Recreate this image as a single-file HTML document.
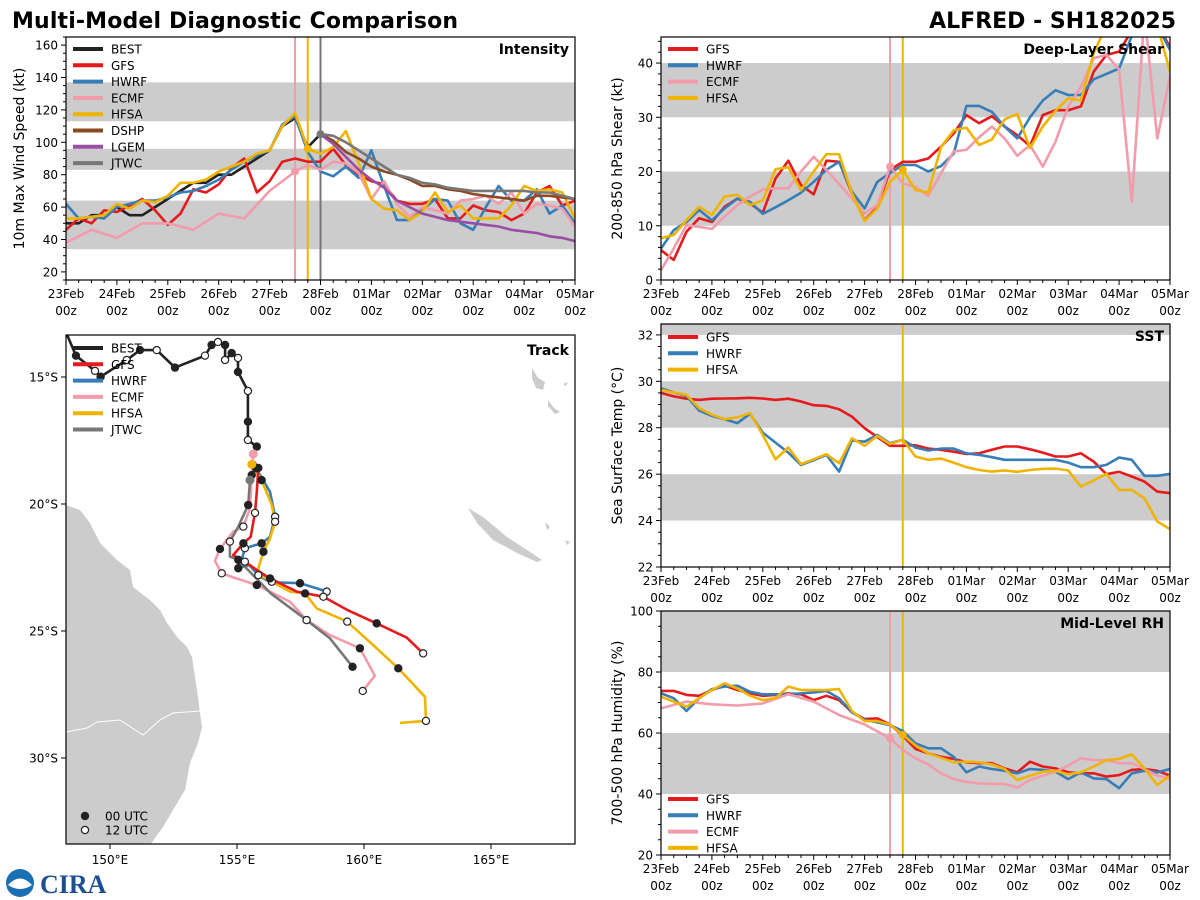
<!DOCTYPE html>
<html><head><meta charset="utf-8"><style>
html,body{margin:0;padding:0;background:#fff;}
svg{display:block;font-family:"DejaVu Sans","Liberation Sans",sans-serif;}
</style></head><body>
<svg id="chart" width="1200" height="900" viewBox="0 0 1200 900" xmlns="http://www.w3.org/2000/svg">
<text x="12" y="28" font-size="22" font-weight="bold" textLength="446">Multi-Model Diagnostic Comparison</text>
<text x="1176" y="28" font-size="22" font-weight="bold" text-anchor="end">ALFRED - SH182025</text>
<g>
<circle cx="20" cy="883" r="14" fill="#1a6fb5"/><path d="M8,885 Q20,872 32,885 Q20,893 8,885Z" fill="#fff"/>
<text x="40" y="893" font-size="26" font-weight="bold" fill="#1d4f91" font-family="Liberation Serif,serif">CIRA</text>
</g>
</svg>
<script>
const TIMES=['23Feb','24Feb','25Feb','26Feb','27Feb','28Feb','01Mar','02Mar','03Mar','04Mar','05Mar'];
// Intensity (kt), 6-hourly from 23Feb 00z
const intBEST=[50,50,55,55,60,55,55,60,65,70,75,75,80,80,85,90,95,110,115,97,105];
const intGFS=[46,53,50,58,57,61,65,58,49,56,71,69,74,84,90,69,76,88,90,88,88,96,86,80,76,74,64,62,62,65,53,53,61,58,57,52,56,69,73,61,64];
const intHWRF=[62,53,54,53,60,62,64,64,66,69,70,73,77,83,88,92,95,111,116,94,82,79,85,78,95,73,52,52,58,65,64,50,46,60,73,64,64,71,56,61,50];
const intECMF=[38,null,46,null,41,null,50,null,50,null,46,null,56,null,53,null,70,null,82,86,83,88,87,81,65,76,62,54,60,58,56,64,65,67,62,69,56,62,61,59,48];
const intHFSA=[53,53,54,55,62,59,64,63,67,75,75,77,82,85,88,93,95,110,118,96,93,97,107,87,65,59,58,52,57,69,57,61,53,53,53,61,73,70,71,69,53];
const N20=[null,null,null,null,null,null,null,null,null,null,null,null,null,null,null,null,null,null,null,null];
const intDSHP=N20.concat([105,101,94,90,85,82,80,77,73,73,71,70,68,67,66,65,64,67,67,66,65]);
const intLGEM=N20.concat([105,99,91,83,77,72,64,60,56,54,52,51,50,49,48,46,45,44,42,41,39]);
const intJTWC=N20.concat([105,104,100,95,90,85,80,78,75,74,72,71,70,70,70,70,70,69,69,67,65]);
// Shear (kt)
const shGFS=[5.5,3.7,8.9,11.4,10.7,13.5,15,14.1,12.4,18.7,22,17.5,15.8,22,21.8,16,11,13.4,20.3,21.8,21.8,22.4,24.6,27,30.4,28.9,30.2,28.3,26.7,24.7,30.4,31.3,31.3,32,38.4,41.5,42.1,46,47,47,43];
const shHWRF=[5.8,9.2,10.7,12.9,11,13.2,15,14.4,12.2,13.4,14.7,16.1,18.1,20.3,21.8,16.3,13.2,18.1,19.7,21.2,21.2,20,21,23.3,32.1,32.1,31,28.3,26.1,30,33.1,35,34.1,34.1,37,38,39,45,47,47,42.4];
const shECMF=[1.8,5.8,10.1,9.8,9.4,11.7,13.8,15.4,16.7,16.9,16.9,20,22.7,20.3,17.7,15,12.3,13.8,20.9,17.8,17.2,15.5,19.7,23.7,24,26.3,28.3,26.1,22.9,24.9,20.9,25.5,32,35.6,40.9,41.5,38.8,14.4,49,26.1,37.5];
const shHFSA=[7.7,8.3,11,13.5,12,15.4,15.7,13.8,14.7,20.4,20.8,16.6,20,23.2,23.2,16,10.9,13.2,18.1,20.3,16.6,16.1,24.5,27.6,28.1,24.9,25.9,29.6,30.6,24.3,28.3,31.2,33.5,33.1,41.8,47,47,47,47,47,38.4];
// SST (C)
const sstGFS=[29.5,29.35,29.25,29.2,29.25,29.26,29.27,29.29,29.26,29.2,29.25,29.13,28.97,28.94,28.8,28.48,27.98,27.6,27.22,27.22,27.25,27.1,27.05,26.97,26.87,26.9,27.05,27.19,27.19,27.07,26.93,26.76,26.76,26.9,26.54,26,26.1,25.9,25.68,25.25,25.18];
const sstHWRF=[29.7,29.52,29.37,28.74,28.51,28.37,28.2,28.6,27.79,27.36,26.93,26.4,26.6,26.83,26.11,27.45,27.4,27.69,27.33,27.48,27.15,27.02,27.1,27.1,26.9,26.83,26.73,26.62,26.62,26.62,26.62,26.62,26.5,26.3,26.3,26.4,26.72,26.62,25.93,25.93,26.01];
const sstHFSA=[29.63,29.52,29.42,28.84,28.56,28.37,28.45,28.63,27.69,26.64,27.15,26.44,26.64,26.86,26.47,27.55,27.22,27.65,27.3,27.48,26.76,26.62,26.67,26.5,26.3,26.18,26.11,26.16,26.1,26.18,26.23,26.24,26.16,25.47,25.73,26.01,25.32,25.32,24.96,23.96,23.63];
// RH (%)
const rhGFS=[73.8,73.8,72.5,72.2,74.1,75.5,74.1,73,72.2,72.5,73,72.7,70.8,72.2,70.8,66.8,64.6,64.8,62.8,59.1,54.8,53.3,52.2,51.5,50.4,50.1,50.1,48.4,47.1,50.6,49,48.4,47.1,46.8,46.8,45.7,46.2,47.9,48.2,47.6,46];
const rhHWRF=[73,71.4,67.2,71.4,74.4,75.2,75.5,73.5,72.7,72.7,72.7,73,73.3,73.8,71.4,66.8,64.3,63.5,62.6,60.7,56.6,55,55,52.2,47.1,49,48.2,47.6,46.8,48.2,47.9,47.3,44.9,47.1,45.1,44.9,41.9,46.8,47.6,47.1,48.2];
const rhECMF=[68.1,null,70.3,null,69.4,null,69,null,69.7,null,72.7,null,70.3,null,65.9,null,62.8,null,58.3,54.4,51.7,49.7,46.8,44.9,44,43.5,43.3,43.3,42.1,44.6,46,47.3,49.3,51.7,51.1,51.1,50.1,50.1,48.2,46,45.1];
const rhHFSA=[71.9,70.3,68.6,71.4,74.1,76.3,74.6,72.2,70.8,71.4,75.2,74.1,74.1,74.1,74.4,67.2,63.9,63.9,62.8,59.4,55.9,53.3,51.9,50.4,50.6,50.4,49.7,48.2,44.6,46,47.3,47.6,46.5,47.1,49,51.1,51.5,53,48.4,43,46];
// Tracks (lon E, lat S)
const trBESTlon=[148.23,148.66,149.41,149.63,150.66,151.18,151.84,152.56,153.74,154.0,154.25,154.53,154.53,154.79,155.04,155.04,155.43,155.43,155.43,155.78];
const trBESTlat=[13.15,14.16,14.76,14.99,14.33,13.94,13.94,14.63,14.16,13.74,13.62,13.74,14.33,14.06,14.25,14.8,15.55,16.76,17.48,17.74];
const trGFSlon=[155.67,155.84,155.78,155.71,155.54,155.25,154.85,155.31,155.78,156.3,157.35,158.4,159.34,160.5,161.68,162.33];
const trGFSlat=[18.33,18.58,19.52,20.35,21.29,21.55,22.01,22.27,22.6,22.93,23.45,23.65,24.17,24.7,25.26,25.88];
const trHWRFlon=[155.51,155.75,156.3,156.5,156.3,155.97,155.64,155.31,155.22,155.05,155.48,155.84,156.3,157.48,158.24,158.53];
const trHWRFlat=[18.33,18.59,19.52,20.5,21.29,21.55,21.64,21.74,22.07,22.53,22.4,22.8,23.08,23.12,23.35,23.45];
const trECMFlon=[155.64,155.58,155.51,155.25,154.85,154.33,154.13,154.4,154.85,155.78,157.09,157.74,158.66,159.84,160.43,159.95];
const trECMFlat=[18.03,18.86,20.17,20.89,21.09,21.77,22.24,22.73,22.89,23.19,23.85,24.57,25.16,25.68,26.76,27.36];
const trHFSAlon=[155.58,155.97,156.37,156.5,156.3,156.04,155.78,156.37,157.09,157.68,158.14,159.34,160.36,161.35,162.4,162.44,161.42];
const trHFSAlat=[18.44,19.06,20.04,20.7,21.35,21.88,22.73,23.06,23.45,23.52,24.11,24.63,25.55,26.47,27.59,28.54,28.62];
const trJTWClon=[155.51,155.44,155.05,154.72,154.72,155.05,156.33,157.74,158.66,159.55];
const trJTWClat=[19.06,20.04,20.89,21.48,22.07,22.2,23.52,24.57,25.29,26.41];

const C={BEST:'#222222',GFS:'#e41a1c',HWRF:'#377eb8',ECMF:'#f29cab',HFSA:'#f0b400',DSHP:'#8c4a24',LGEM:'#984ea3',JTWC:'#777777'};
const svg=document.getElementById('chart');
const NS='http://www.w3.org/2000/svg';
function mk(tag,at,parent){const e=document.createElementNS(NS,tag);for(const k in at)e.setAttribute(k,at[k]);(parent||svg).appendChild(e);return e;}

function panel(cfg){
  const g=mk('g',{});
  
  
  const {x0,x1,y0,y1,vmin,vmax}=cfg;
  const X=i=>x0+i*(x1-x0)/40;
  const Y=v=>y1-(v-vmin)/(vmax-vmin)*(y1-y0);
  const cid='clip-'+cfg.name;
  const cp=mk('clipPath',{id:cid},g);mk('rect',{x:x0,y:y0,width:x1-x0,height:y1-y0},cp);
  cfg.bands.forEach(b=>{const r=mk('rect',{x:x0,y:Y(Math.min(b[1],vmax)),width:x1-x0,height:Y(b[0])-Y(Math.min(b[1],vmax)),fill:'#cccccc'},g);
    
    });
  for(let v=Math.ceil(vmin/cfg.minor)*cfg.minor;v<=vmax+1e-9;v+=cfg.minor){
    const major=Math.abs(v/cfg.major-Math.round(v/cfg.major))<1e-6;
    mk('line',{x1:x0,x2:x0-(major?5:3),y1:Y(v),y2:Y(v),stroke:'#000','stroke-width':1},g);
    if(major){const t=mk('text',{x:x0-8,y:Y(v)+4.5,'font-size':12,'text-anchor':'end'},g);t.textContent=Math.round(v);
      
      }
  }
  for(let i=0;i<=40;i++){const major=i%4===0;
    mk('line',{x1:X(i),x2:X(i),y1:y1,y2:y1+(major?5:3),stroke:'#000','stroke-width':1},g);
    if(major){const t=mk('text',{x:X(i),y:y1+18,'font-size':12,'text-anchor':'middle'},g);t.textContent=TIMES[i/4];
      
      
      const t2=mk('text',{x:X(i),y:y1+35,'font-size':12,'text-anchor':'middle'},g);t2.textContent='00z';
      
      }
  }
  const yl=mk('text',{x:0,y:0,'font-size':14,'text-anchor':'middle',transform:`translate(${cfg.ylx},${(y0+y1)/2}) rotate(-90)`},g);
  yl.textContent=cfg.ylabel;
  
  
  const pg=mk('g',{'clip-path':`url(#${cid})`},g);
  (cfg.vlines||[]).forEach(v=>{const l=mk('line',{x1:X(v[0]),x2:X(v[0]),y1:y0,y2:y1,stroke:v[1],'stroke-width':2},pg);
    
    });
  cfg.series.forEach(s=>{
    let d='';let first=true;
    s.data.forEach((v,i)=>{if(v===null)return;d+=(first?'M':'L')+X(i).toFixed(1)+','+Y(v).toFixed(1);first=false;});
    const p=mk('path',{d,fill:'none',stroke:C[s.k],'stroke-width':2.6,'stroke-linejoin':'round'},pg);
    
    
    if(s.dot!==undefined&&s.data[s.dot]!==null){const c=mk('circle',{cx:X(s.dot),cy:Y(s.data[s.dot]),r:4,fill:C[s.k]},pg);
      
      }
  });
  mk('rect',{x:x0,y:y0,width:x1-x0,height:y1-y0,fill:'none',stroke:'#000','stroke-width':1.2},g);
  const tt=mk('text',{x:x1-6,y:y0+17,'font-size':14,'font-weight':'bold','text-anchor':'end'},g);tt.textContent=cfg.title;
  
  
  legend(g,cfg.series.map(s=>s.k),x0+7,cfg.legY);
}
function legend(g,keys,lx,ly){
  keys.forEach((k,i)=>{const y=ly+i*16.3;
    const l=mk('line',{x1:lx,x2:lx+30,y1:y,y2:y,stroke:C[k],'stroke-width':4},g);
    
    
    const t=mk('text',{x:lx+38,y:y+4.5,'font-size':12},g);t.textContent=k;
    
    });
}
panel({name:'intensity',x0:66,x1:575,y0:37,y1:280,vmin:15,vmax:165,major:20,minor:5,ylx:24,ylabel:'10m Max Wind Speed (kt)',title:'Intensity',
  bands:[[34,64],[83,96],[113,137]],vlines:[[18,C.ECMF],[19,C.HFSA],[20,C.JTWC]],legY:49,
  series:[{k:'BEST',data:intBEST},{k:'GFS',data:intGFS},{k:'HWRF',data:intHWRF},{k:'ECMF',data:intECMF,dot:18},{k:'HFSA',data:intHFSA,dot:19},{k:'DSHP',data:intDSHP},{k:'LGEM',data:intLGEM},{k:'JTWC',data:intJTWC,dot:20}]});
panel({name:'shear',x0:661,x1:1170,y0:37,y1:280,vmin:0,vmax:44.8,major:10,minor:2,ylx:622,ylabel:'200-850 hPa Shear (kt)',title:'Deep-Layer Shear',
  bands:[[10,20],[30,40]],vlines:[[18,C.ECMF],[19,C.HFSA]],legY:49,
  series:[{k:'GFS',data:shGFS},{k:'HWRF',data:shHWRF},{k:'ECMF',data:shECMF,dot:18},{k:'HFSA',data:shHFSA,dot:19}]});
panel({name:'sst',x0:661,x1:1170,y0:324,y1:567,vmin:22,vmax:32.47,major:2,minor:0.5,ylx:622,ylabel:'Sea Surface Temp (°C)',title:'SST',
  bands:[[24,26],[28,30],[32,33]],vlines:[[19,C.HFSA]],legY:337,
  series:[{k:'GFS',data:sstGFS},{k:'HWRF',data:sstHWRF},{k:'HFSA',data:sstHFSA}]});
panel({name:'rh',x0:661,x1:1170,y0:611,y1:855,vmin:20,vmax:100,major:20,minor:5,ylx:622,ylabel:'700-500 hPa Humidity (%)',title:'Mid-Level RH',
  bands:[[40,60],[80,100]],vlines:[[18,C.ECMF],[19,C.HFSA]],legY:799,
  series:[{k:'GFS',data:rhGFS},{k:'HWRF',data:rhHWRF},{k:'ECMF',data:rhECMF,dot:18},{k:'HFSA',data:rhHFSA,dot:19}]});

// Track panel
(function(){
  const x0=66,x1=575,y0=335,y1=844;
  const g=mk('g',{});
  
  
  const PX=lon=>110+(lon-150)*25.4, PY=lat=>377+(lat-15)*25.4;
  const cp=mk('clipPath',{id:'clip-track'},g);mk('rect',{x:x0,y:y0,width:x1-x0,height:y1-y0},cp);
  const pg=mk('g',{'clip-path':'url(#clip-track)'},g);
  const land=mk('path',{d:'M66,505 L80,510 L90,523 L100,543 L117,560 L130,570 L133,587 L150,600 L160,610 L167,623 L177,637 L187,647 L192,657 L197,690 L200,713 L202,727 L198,743 L190,763 L185,790 L173,810 L163,827 L150,845 L66,845Z',fill:'#cccccc'},pg);
  
  
  mk('path',{d:'M66,732 L87,728 L97,722 L120,720 L143,735 L160,720 L173,713 L200,711',fill:'none',stroke:'#fff','stroke-width':1},pg);
  const nc=mk('path',{d:'M468,508 L483,517 L507,537 L527,550 L542,560 L537,562 L517,553 L493,540 L477,523Z',fill:'#cccccc'},pg);
  
  
  mk('path',{d:'M532,368 L538,378 L545,382 L543,390 L536,388 L532,378Z M548,400 L554,408 L560,412 L555,414 L548,406Z M563,384 L568,382 L566,386Z M545,522 L550,527 L547,530Z M565,540 L570,542 L567,545Z',fill:'#cccccc'},pg);
  [[150,'150°E'],[155,'155°E'],[160,'160°E'],[165,'165°E']].forEach(a=>{
    mk('line',{x1:PX(a[0]),x2:PX(a[0]),y1:y1,y2:y1+5,stroke:'#000'},g);
    const t=mk('text',{x:PX(a[0]),y:y1+20,'font-size':12,'text-anchor':'middle'},g);t.textContent=a[1];
    
    });
  [[15,'15°S'],[20,'20°S'],[25,'25°S'],[30,'30°S']].forEach(a=>{
    mk('line',{x1:x0,x2:x0-5,y1:PY(a[0]),y2:PY(a[0]),stroke:'#000'},g);
    const t=mk('text',{x:x0-8,y:PY(a[0])+4.5,'font-size':12,'text-anchor':'end'},g);t.textContent=a[1];
    
    });
  const tracks=[['HWRF',trHWRFlon,trHWRFlat],['ECMF',trECMFlon,trECMFlat],['JTWC',trJTWClon,trJTWClat],['HFSA',trHFSAlon,trHFSAlat],['GFS',trGFSlon,trGFSlat],['BEST',trBESTlon,trBESTlat]];
  tracks.forEach(t=>{
    const d=t[1].map((lo,i)=>(i?'L':'M')+PX(lo).toFixed(1)+','+PY(t[2][i]).toFixed(1)).join('');
    const p=mk('path',{d,fill:'none',stroke:C[t[0]],'stroke-width':2.6,'stroke-linejoin':'round'},pg);
    
    
  });
  tracks.forEach(t=>{
    const n=t[1].length;
    for(let i=1;i<n;i+=(t[0]==='BEST'?1:2)){
      const filled=(t[0]==='BEST')?(i%2===1):(((i-1)/2)%2===0);
      const c=mk('circle',{cx:PX(t[1][i]),cy:PY(t[2][i]),r:3.6,fill:filled?'#222':'#fff',stroke:'#222','stroke-width':1.2},pg);
      
      
    }
  });
  [['ECMF',trECMFlon[0],trECMFlat[0]],['HFSA',trHFSAlon[0],trHFSAlat[0]],['JTWC',trJTWClon[0],trJTWClat[0]]].forEach(a=>{
    const c=mk('circle',{cx:PX(a[1]),cy:PY(a[2]),r:4.5,fill:C[a[0]]},pg);
    
    });
  mk('rect',{x:x0,y:y0,width:x1-x0,height:y1-y0,fill:'none',stroke:'#000','stroke-width':1.2},g);
  const tt=mk('text',{x:x1-6,y:y0+20,'font-size':14,'font-weight':'bold','text-anchor':'end'},g);tt.textContent='Track';
  
  
  legend(g,['BEST','GFS','HWRF','ECMF','HFSA','JTWC'],x0+7,348);
  [['00 UTC','#222',816],['12 UTC','#fff',830]].forEach(a=>{
    const c=mk('circle',{cx:85,cy:a[2],r:3.6,fill:a[1],stroke:'#222','stroke-width':1.2},g);
    
    
    const t=mk('text',{x:105,y:a[2]+4.5,'font-size':12},g);t.textContent=a[0];
    
    });
})();
</script>
</body></html>
